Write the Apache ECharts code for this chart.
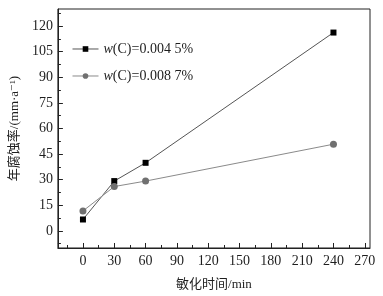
<!DOCTYPE html>
<html>
<head>
<meta charset="utf-8">
<script src="https://cdn.jsdelivr.net/npm/echarts@6/dist/echarts.min.js"></script>
<style>
  html, body { margin: 0; padding: 0; background: #fff; }
  #chart { width: 383px; height: 296px; }
</style>
</head>
<body>
<div id="chart"></div>
<script>
// 敏化时间 (min)
var times = [0, 30, 60, 240];
// 年腐蚀率 (mm/a)
var rate45 = [6.7, 29.2, 39.9, 116.2];   // w(C)=0.004 5%
var rate87 = [11.7, 26.0, 29.2, 50.8];   // w(C)=0.008 7%
var names = ['w(C)=0.004 5%', 'w(C)=0.008 7%'];

var xTicks = [0, 30, 60, 90, 120, 150, 180, 210, 240, 270];
var xMinor = [-15, 15, 45, 75, 105, 135, 165, 195, 225, 255];
var yTicks = [0, 15, 30, 45, 60, 75, 90, 105, 120];
var yMinor = [-7.5, 7.5, 22.5, 37.5, 52.5, 67.5, 82.5, 97.5, 112.5, 127.5];

var font = 'Liberation Serif, DejaVu Serif, Noto Sans CJK SC';
var txt = '#1e1e1e';

function pairs(xs, ys) {
    var out = [];
    for (var i = 0; i < xs.length; i++) out.push([xs[i], ys[i]]);
    return out;
}

var dom = document.getElementById('chart');
var myChart = echarts.init(dom);

var option = {
    animation: false,
    backgroundColor: '#fff',
    grid: {
        left: 44, right: 13, top: 9, bottom: 43,
        show: true, borderColor: '#222', borderWidth: 1
    },
    legend: {
        orient: 'vertical',
        left: 67,
        top: 37,
        itemWidth: 26,
        itemHeight: 7,
        itemGap: 13,
        data: names,
        lineStyle: { width: 1 },
        formatter: function (name) {
            return '{i|w}{n|' + name.slice(1) + '}';
        },
        textStyle: {
            rich: {
                i: { fontFamily: font, fontStyle: 'italic', fontSize: 14, color: txt },
                n: { fontFamily: font, fontSize: 14, color: txt }
            }
        }
    },
    xAxis: [
        {
            type: 'value', min: -24, max: 275,
            name: '敏化时间/min', nameLocation: 'middle', nameGap: 30,
            nameTextStyle: { fontFamily: font, fontSize: 13, color: txt },
            axisLine: { show: true, onZero: false, lineStyle: { color: '#222' } },
            axisTick: { show: true, inside: true, length: 5, customValues: xTicks, lineStyle: { color: '#222' } },
            axisLabel: { customValues: xTicks, fontFamily: font, fontSize: 14, color: txt, margin: 6 },
            splitLine: { show: false }
        },
        {
            type: 'value', min: -24, max: 275, position: 'bottom',
            axisLine: { show: false, onZero: false },
            axisTick: { show: true, inside: true, length: 3, customValues: xMinor, lineStyle: { color: '#222' } },
            axisLabel: { show: false },
            splitLine: { show: false }
        }
    ],
    yAxis: [
        {
            type: 'value', min: -10, max: 130,
            name: '年腐蚀率/(mm·a⁻¹)', nameLocation: 'middle', nameGap: 31, nameRotate: 90,
            nameTextStyle: { fontFamily: font, fontSize: 13, color: txt },
            axisLine: { show: true, onZero: false, lineStyle: { color: '#222' } },
            axisTick: { show: true, inside: true, length: 5, customValues: yTicks, lineStyle: { color: '#222' } },
            axisLabel: { customValues: yTicks, fontFamily: font, fontSize: 14, color: txt, margin: 5 },
            splitLine: { show: false }
        },
        {
            type: 'value', min: -10, max: 130, position: 'left',
            axisLine: { show: false, onZero: false },
            axisTick: { show: true, inside: true, length: 3, customValues: yMinor, lineStyle: { color: '#222' } },
            axisLabel: { show: false },
            splitLine: { show: false }
        }
    ],
    series: [
        {
            name: names[0],
            type: 'line',
            data: pairs(times, rate45),
            symbol: 'rect',
            symbolSize: 6,
            itemStyle: { color: '#000' },
            lineStyle: { color: '#555', width: 1 }
        },
        {
            name: names[1],
            type: 'line',
            data: pairs(times, rate87),
            symbol: 'circle',
            symbolSize: 7,
            itemStyle: { color: '#707070' },
            lineStyle: { color: '#8a8a8a', width: 1 }
        }
    ]
};

myChart.setOption(option, true);
</script>
</body>
</html>
